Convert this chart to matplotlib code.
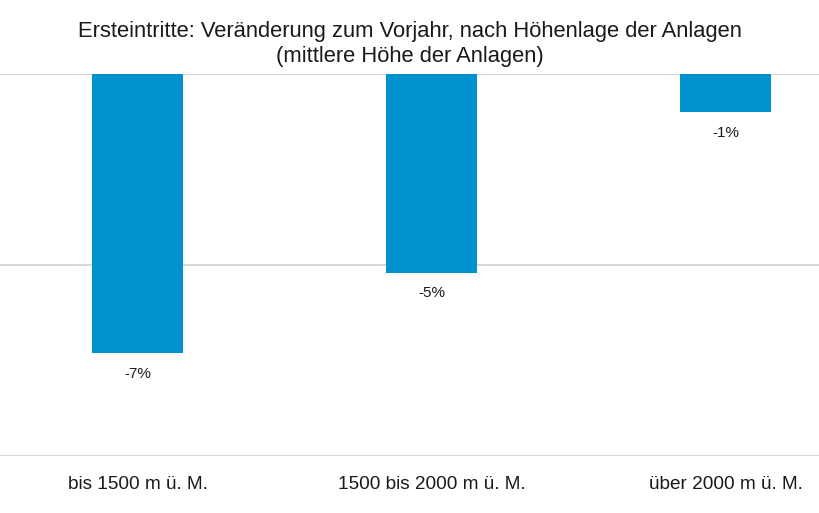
import matplotlib.pyplot as plt

plt.rcParams['font.family'] = ['Liberation Sans', 'DejaVu Sans']

# Data (percent change vs previous year)
categories = ['bis 1500 m ü. M.', '1500 bis 2000 m ü. M.', 'über 2000 m ü. M.']
values = [-7.3, -5.2, -1.0]
labels = ['-7%', '-5%', '-1%']
title_lines = ['Ersteintritte: Veränderung zum Vorjahr, nach Höhenlage der Anlagen',
               '(mittlere Höhe der Anlagen)']

fig = plt.figure(figsize=(8.2, 5.13), dpi=100)
ax = fig.add_axes([0.0, 0.111, 1.0, 0.745])

x = range(len(categories))
bars = ax.bar(x, values, width=0.31, color='#0091CF', zorder=3)

for b, lab in zip(bars, labels):
    ax.annotate(lab, (b.get_x() + b.get_width() / 2, b.get_height()),
                xytext=(0, -10), textcoords='offset points',
                ha='center', va='top', fontsize=11, color='#1a1a1a')

ax.set_ylim(-10, 0)
ax.set_xlim(-0.468, 2.32)
ax.set_yticks([0, -5, -10])
ax.yaxis.grid(True, color='#D9D9D9', linewidth=1.5, zorder=0)
ax.set_yticklabels([])
ax.tick_params(axis='y', length=0)
ax.set_xticks(list(x))
ax.set_xticklabels(categories, fontsize=13.7, color='#1a1a1a')
ax.tick_params(axis='x', length=0, pad=14)
for s in ax.spines.values():
    s.set_visible(False)

fig.text(0.5, 0.9285, title_lines[0], ha='center', va='baseline',
         fontsize=15.8, color='#1a1a1a')
fig.text(0.5, 0.8797, title_lines[1], ha='center', va='baseline',
         fontsize=15.8, color='#1a1a1a')

fig.savefig('out.png', dpi=100)
